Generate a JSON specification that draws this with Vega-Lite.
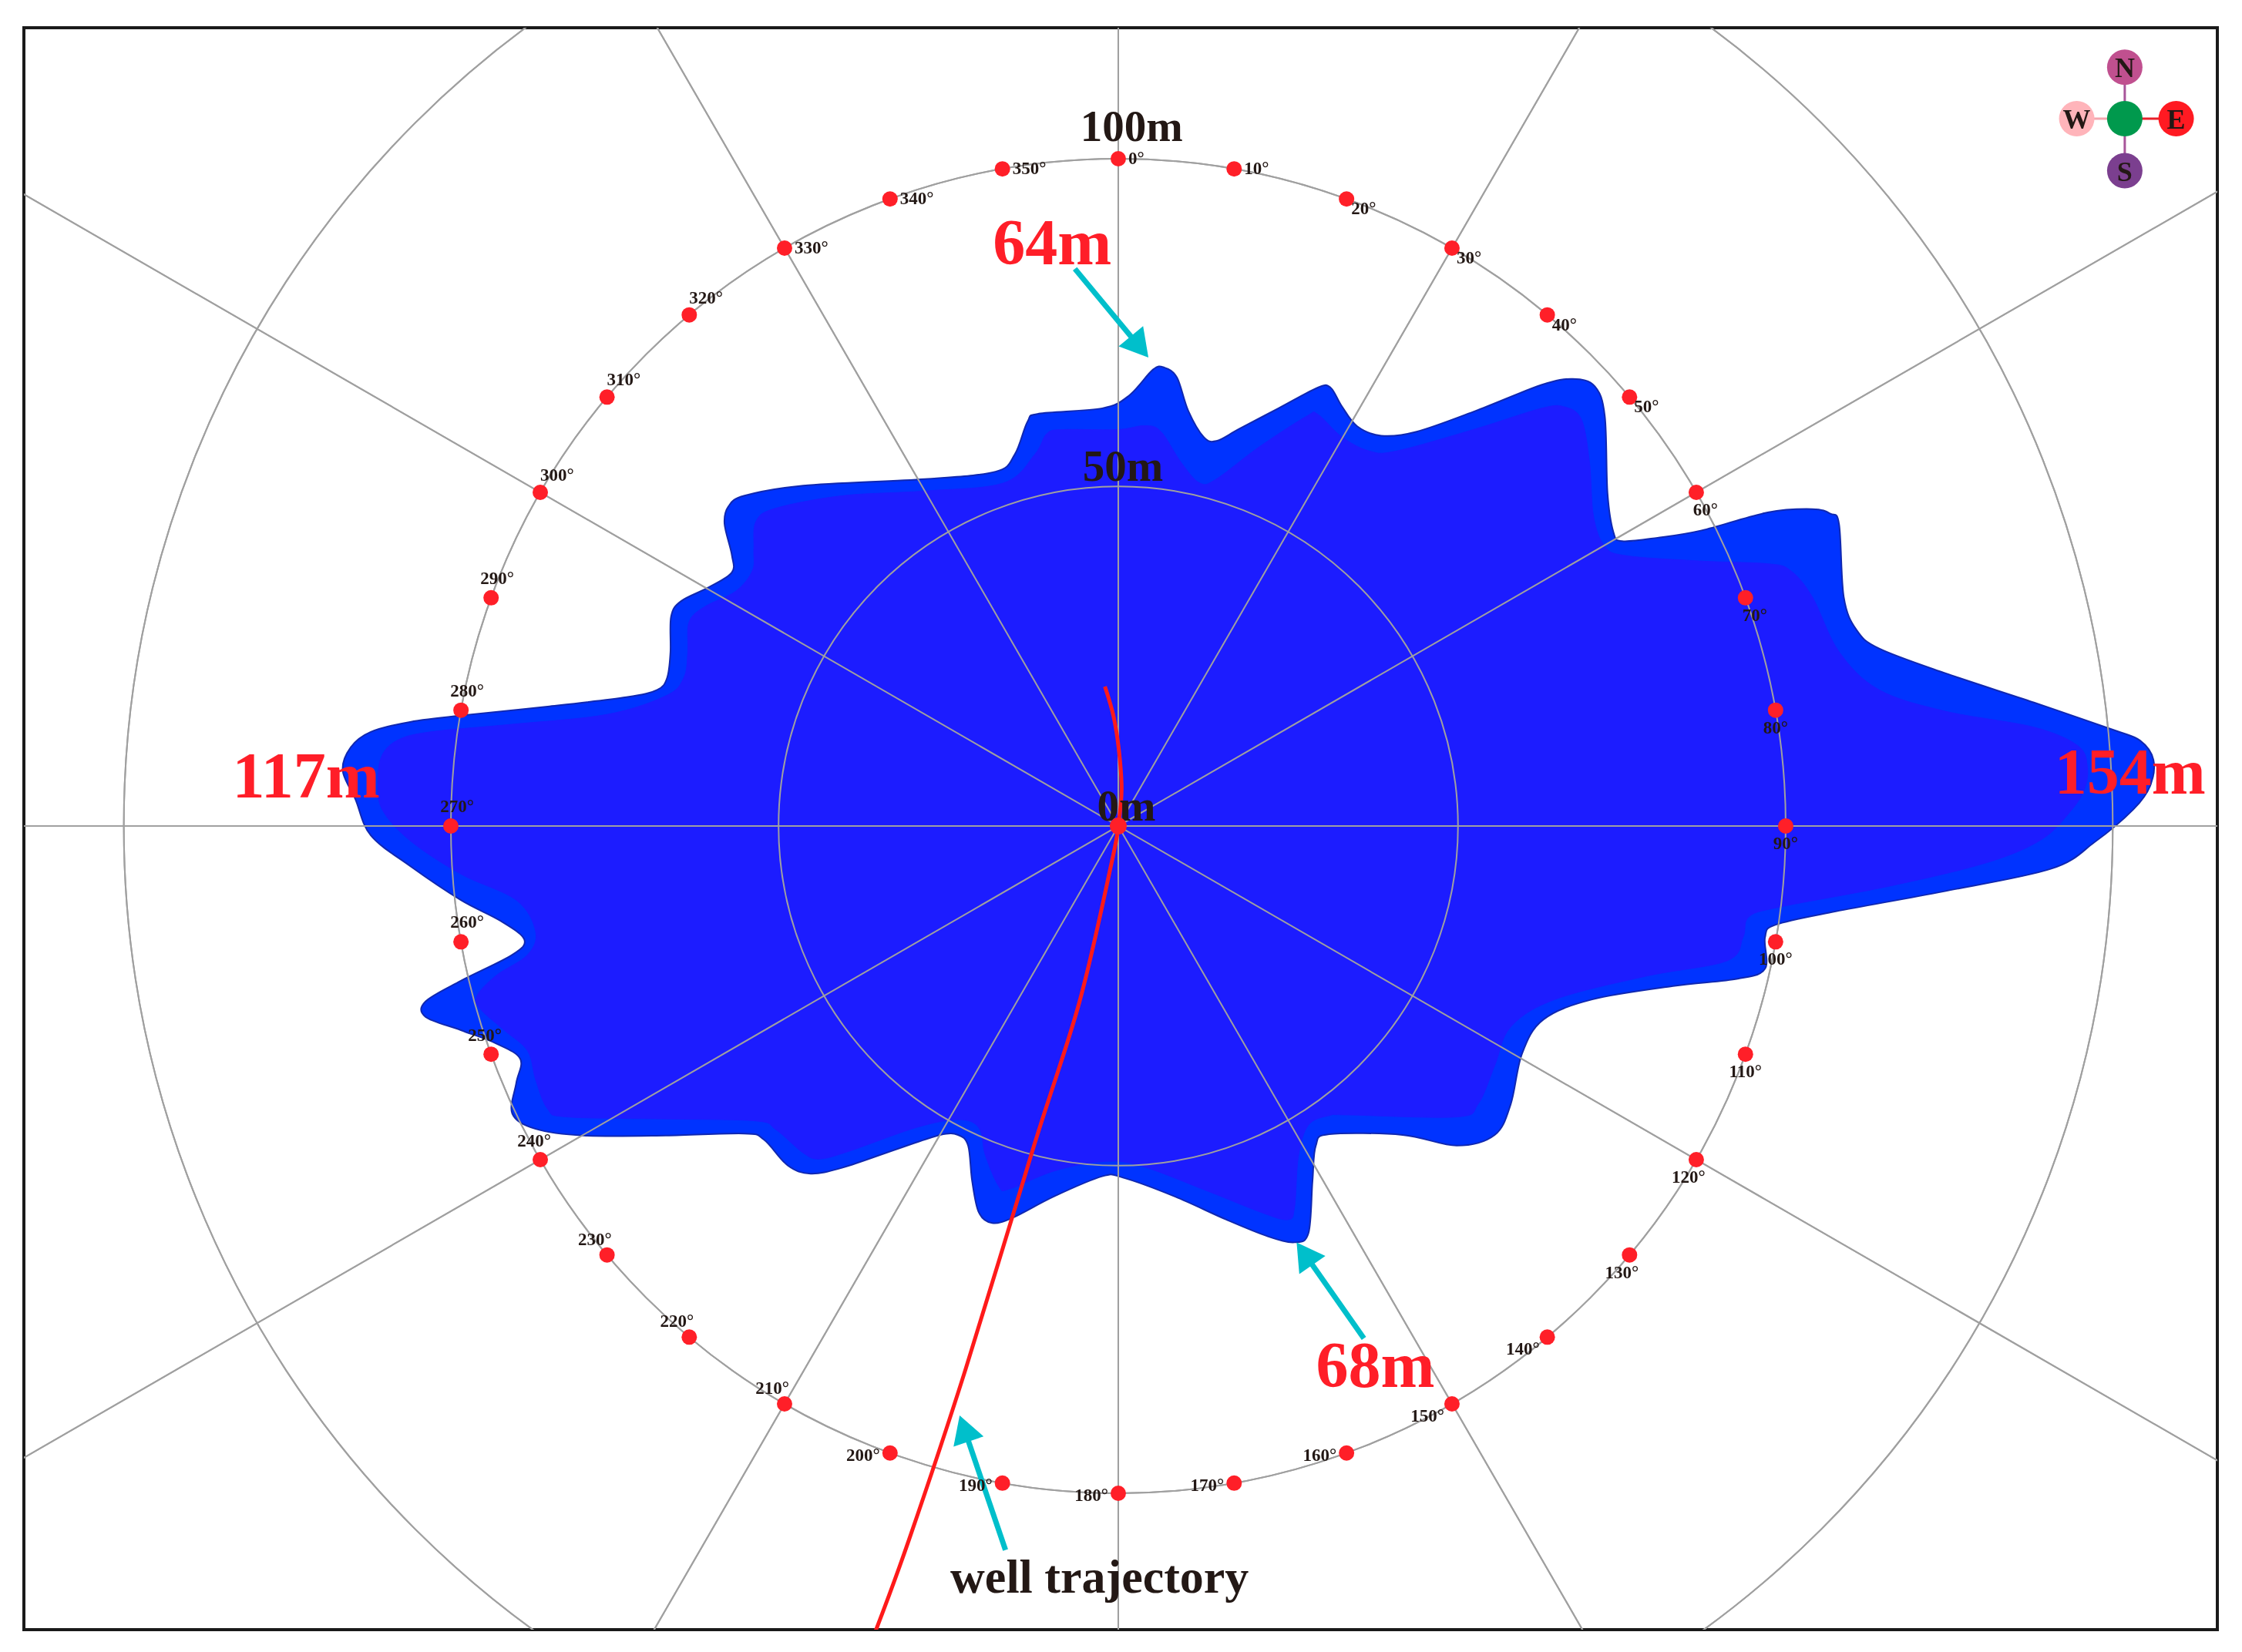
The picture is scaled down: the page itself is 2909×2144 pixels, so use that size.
{
"$schema": "https://vega.github.io/schema/vega-lite/v6.json",
"width": 2846, "height": 2079,
"autosize": {"type": "none"},
"padding": {"left": 31, "top": 36, "right": 32, "bottom": 29},
"background": "white",
"config": {"view": {"stroke": "#1a1a1a", "strokeWidth": 4}},
"datasets": {
"rings": [{"x": 0, "y": 0, "r": 50.9}, {"x": 0, "y": 0, "r": 100}, {"x": 0, "y": 0, "r": 149}],
"spokes": [
{"x": 0, "y": 300, "x2": 0, "y2": -300},
{"x": 150, "y": 259.8, "x2": -150, "y2": -259.8},
{"x": 259.8, "y": 150, "x2": -259.8, "y2": -150},
{"x": 300, "y": 0, "x2": -300, "y2": 0},
{"x": 259.8, "y": -150, "x2": -259.8, "y2": 150},
{"x": 150, "y": -259.8, "x2": -150, "y2": 259.8}],
"outer": [{"i":1,"x":-116.2,"y":8.3},{"i":2,"x":-115.0,"y":11.8},{"i":3,"x":-112.0,"y":14.1},{"i":4,"x":-106.1,"y":15.6},{"i":5,"x":-97.2,"y":16.7},{"i":6,"x":-85.5,"y":17.9},{"i":7,"x":-73.7,"y":19.3},{"i":8,"x":-69.1,"y":20.4},{"i":9,"x":-67.6,"y":22.2},{"i":10,"x":-67.1,"y":26.0},{"i":11,"x":-67.0,"y":31.4},{"i":12,"x":-65.5,"y":33.7},{"i":13,"x":-61.3,"y":35.8},{"i":14,"x":-57.9,"y":38.0},{"i":15,"x":-57.9,"y":40.6},{"i":16,"x":-59.0,"y":45.3},{"i":17,"x":-58.4,"y":47.9},{"i":18,"x":-56.0,"y":49.5},{"i":19,"x":-47.2,"y":51.0},{"i":20,"x":-29.0,"y":52.0},{"i":21,"x":-18.4,"y":53.1},{"i":22,"x":-15.5,"y":55.7},{"i":23,"x":-13.6,"y":60.6},{"i":24,"x":-11.9,"y":61.8},{"i":25,"x":-2.4,"y":62.6},{"i":26,"x":1.6,"y":64.5},{"i":27,"x":5.2,"y":68.4},{"i":28,"x":6.9,"y":68.7},{"i":29,"x":8.8,"y":67.2},{"i":30,"x":10.5,"y":62.2},{"i":31,"x":12.8,"y":58.3},{"i":32,"x":14.7,"y":57.7},{"i":33,"x":18.1,"y":59.5},{"i":34,"x":24.0,"y":62.6},{"i":35,"x":29.9,"y":65.7},{"i":36,"x":31.8,"y":65.7},{"i":37,"x":33.5,"y":62.9},{"i":38,"x":35.8,"y":59.9},{"i":39,"x":39.4,"y":58.5},{"i":40,"x":44.7,"y":59.1},{"i":41,"x":53.5,"y":62.2},{"i":42,"x":63.4,"y":66.1},{"i":43,"x":68.1,"y":67.0},{"i":44,"x":71.4,"y":65.9},{"i":45,"x":72.9,"y":61.4},{"i":46,"x":73.3,"y":49.9},{"i":47,"x":74.2,"y":44.0},{"i":48,"x":75.5,"y":42.7},{"i":49,"x":80.8,"y":43.2},{"i":50,"x":87.4,"y":44.3},{"i":51,"x":97.3,"y":47.0},{"i":52,"x":104.0,"y":47.5},{"i":53,"x":106.7,"y":46.8},{"i":54,"x":108.0,"y":45.2},{"i":55,"x":108.7,"y":34.3},{"i":56,"x":110.6,"y":29.4},{"i":57,"x":114.0,"y":26.6},{"i":58,"x":123.9,"y":22.9},{"i":59,"x":137.2,"y":18.5},{"i":60,"x":149.1,"y":14.4},{"i":61,"x":153.1,"y":12.8},{"i":62,"x":155.1,"y":9.9},{"i":63,"x":154.6,"y":6.0},{"i":64,"x":152.1,"y":2.5},{"i":65,"x":146.3,"y":-2.4},{"i":66,"x":139.8,"y":-6.4},{"i":67,"x":123.7,"y":-9.8},{"i":68,"x":107.5,"y":-12.8},{"i":69,"x":98.5,"y":-14.8},{"i":70,"x":96.9,"y":-16.7},{"i":71,"x":96.9,"y":-21.4},{"i":72,"x":92.8,"y":-22.9},{"i":73,"x":83.1,"y":-24.0},{"i":74,"x":71.0,"y":-26.0},{"i":75,"x":63.7,"y":-29.0},{"i":76,"x":60.5,"y":-34.1},{"i":77,"x":58.8,"y":-41.7},{"i":78,"x":56.4,"y":-46.3},{"i":79,"x":50.7,"y":-47.9},{"i":80,"x":42.6,"y":-46.3},{"i":81,"x":31.6,"y":-46.2},{"i":82,"x":29.6,"y":-47.9},{"i":83,"x":29.1,"y":-53.2},{"i":84,"x":28.5,"y":-61.0},{"i":85,"x":26.4,"y":-62.4},{"i":86,"x":22.4,"y":-61.5},{"i":87,"x":16.2,"y":-59.0},{"i":88,"x":8.4,"y":-55.5},{"i":89,"x":0.7,"y":-52.7},{"i":90,"x":-2.4,"y":-52.5},{"i":91,"x":-9.6,"y":-55.5},{"i":92,"x":-15.8,"y":-58.7},{"i":93,"x":-18.9,"y":-59.5},{"i":94,"x":-20.9,"y":-57.9},{"i":95,"x":-21.9,"y":-53.2},{"i":96,"x":-22.5,"y":-47.9},{"i":97,"x":-24.0,"y":-46.3},{"i":98,"x":-26.7,"y":-46.3},{"i":99,"x":-32.8,"y":-48.3},{"i":100,"x":-41.3,"y":-51.2},{"i":101,"x":-46.1,"y":-52.1},{"i":102,"x":-49.5,"y":-50.9},{"i":103,"x":-53.1,"y":-47.0},{"i":104,"x":-56.0,"y":-46.1},{"i":105,"x":-67.8,"y":-46.4},{"i":106,"x":-80.1,"y":-46.4},{"i":107,"x":-87.3,"y":-45.4},{"i":108,"x":-90.8,"y":-43.1},{"i":109,"x":-90.2,"y":-38.5},{"i":110,"x":-89.6,"y":-34.9},{"i":111,"x":-93.2,"y":-32.6},{"i":112,"x":-98.5,"y":-30.6},{"i":113,"x":-103.8,"y":-28.6},{"i":114,"x":-103.8,"y":-26.3},{"i":115,"x":-98.5,"y":-23.2},{"i":116,"x":-90.8,"y":-19.3},{"i":117,"x":-89.0,"y":-17.0},{"i":118,"x":-92.6,"y":-14.2},{"i":119,"x":-98.5,"y":-11.1},{"i":120,"x":-106.1,"y":-6.0},{"i":121,"x":-112.0,"y":-1.4},{"i":122,"x":-114.3,"y":4.0}],
"inner": [{"i":1,"x":-110.9,"y":6.8},{"i":2,"x":-110.3,"y":10.6},{"i":3,"x":-107.9,"y":12.9},{"i":4,"x":-103.1,"y":14.1},{"i":5,"x":-91.3,"y":15.2},{"i":6,"x":-76.7,"y":16.7},{"i":7,"x":-67.8,"y":19.5},{"i":8,"x":-65.1,"y":22.2},{"i":9,"x":-64.5,"y":26.0},{"i":10,"x":-64.3,"y":30.6},{"i":11,"x":-61.9,"y":32.9},{"i":12,"x":-57.3,"y":35.2},{"i":13,"x":-54.8,"y":38.3},{"i":14,"x":-54.6,"y":41.5},{"i":15,"x":-54.3,"y":45.6},{"i":16,"x":-51.4,"y":47.6},{"i":17,"x":-41.3,"y":49.5},{"i":18,"x":-29.0,"y":50.2},{"i":19,"x":-17.2,"y":51.4},{"i":20,"x":-12.5,"y":55.7},{"i":21,"x":-10.7,"y":58.8},{"i":22,"x":-8.3,"y":59.4},{"i":23,"x":-0.1,"y":59.4},{"i":24,"x":4.0,"y":60.0},{"i":25,"x":6.4,"y":59.1},{"i":26,"x":9.4,"y":54.5},{"i":27,"x":12.2,"y":51.4},{"i":28,"x":14.7,"y":52.0},{"i":29,"x":21.1,"y":56.8},{"i":30,"x":28.2,"y":61.4},{"i":31,"x":29.9,"y":61.7},{"i":32,"x":33.5,"y":58.3},{"i":33,"x":37.6,"y":56.2},{"i":34,"x":41.7,"y":56.2},{"i":35,"x":53.5,"y":59.5},{"i":36,"x":63.4,"y":62.6},{"i":37,"x":66.9,"y":62.8},{"i":38,"x":69.4,"y":60.9},{"i":39,"x":70.6,"y":54.5},{"i":40,"x":71.2,"y":46.4},{"i":41,"x":72.9,"y":41.9},{"i":42,"x":76.2,"y":40.5},{"i":43,"x":87.4,"y":39.7},{"i":44,"x":97.3,"y":39.3},{"i":45,"x":100.7,"y":38.3},{"i":46,"x":104.0,"y":34.3},{"i":47,"x":108.0,"y":26.1},{"i":48,"x":114.0,"y":20.4},{"i":49,"x":123.9,"y":17.2},{"i":50,"x":137.2,"y":14.8},{"i":51,"x":143.8,"y":12.0},{"i":52,"x":145.2,"y":8.8},{"i":53,"x":144.7,"y":5.4},{"i":54,"x":142.5,"y":2.0},{"i":55,"x":138.2,"y":-2.1},{"i":56,"x":130.1,"y":-5.5},{"i":57,"x":115.6,"y":-9.0},{"i":58,"x":99.3,"y":-12.1},{"i":59,"x":94.5,"y":-13.6},{"i":60,"x":93.6,"y":-16.7},{"i":61,"x":91.2,"y":-20.2},{"i":62,"x":79.1,"y":-22.5},{"i":63,"x":65.4,"y":-26.0},{"i":64,"x":58.8,"y":-30.1},{"i":65,"x":56.4,"y":-35.9},{"i":66,"x":53.9,"y":-41.7},{"i":67,"x":50.7,"y":-43.6},{"i":68,"x":34.5,"y":-43.3},{"i":69,"x":31.6,"y":-43.4},{"i":70,"x":28.5,"y":-44.8},{"i":71,"x":27.0,"y":-49.4},{"i":72,"x":26.4,"y":-57.2},{"i":73,"x":25.4,"y":-59.0},{"i":74,"x":21.4,"y":-57.9},{"i":75,"x":13.6,"y":-54.8},{"i":76,"x":3.3,"y":-50.9},{"i":77,"x":-2.4,"y":-50.3},{"i":78,"x":-9.6,"y":-51.7},{"i":79,"x":-16.3,"y":-54.4},{"i":80,"x":-17.9,"y":-54.0},{"i":81,"x":-19.9,"y":-49.4},{"i":82,"x":-20.9,"y":-45.2},{"i":83,"x":-24.0,"y":-44.0},{"i":84,"x":-30.3,"y":-45.2},{"i":85,"x":-40.5,"y":-48.8},{"i":86,"x":-44.8,"y":-49.9},{"i":87,"x":-47.2,"y":-49.0},{"i":88,"x":-51.3,"y":-45.5},{"i":89,"x":-54.3,"y":-44.2},{"i":90,"x":-67.8,"y":-43.9},{"i":91,"x":-82.6,"y":-43.6},{"i":92,"x":-85.5,"y":-42.4},{"i":93,"x":-87.3,"y":-38.0},{"i":94,"x":-88.5,"y":-33.7},{"i":95,"x":-92.0,"y":-30.6},{"i":96,"x":-95.5,"y":-27.5},{"i":97,"x":-96.1,"y":-25.5},{"i":98,"x":-93.2,"y":-22.4},{"i":99,"x":-88.5,"y":-19.3},{"i":100,"x":-87.3,"y":-15.8},{"i":101,"x":-90.2,"y":-11.1},{"i":102,"x":-98.5,"y":-7.2},{"i":103,"x":-106.1,"y":-2.2},{"i":104,"x":-110.3,"y":2.5}],
"well": [{"i":1,"x":-2.0,"y":20.9},{"i":2,"x":-0.7,"y":16.4},{"i":3,"x":0.1,"y":11.3},{"i":4,"x":0.5,"y":5.5},{"i":5,"x":0,"y":0},{"i":6,"x":-1.0,"y":-5.5},{"i":7,"x":-5.8,"y":-26.3},{"i":8,"x":-12.5,"y":-47.5},{"i":9,"x":-23.0,"y":-81.8},{"i":10,"x":-31.3,"y":-106.8},{"i":11,"x":-36.5,"y":-121}],
"arrows": [{"x":-6.5,"y":83.5,"x2":3.2,"y2":71.8,"bearing":140.4},{"x":36.8,"y":-76.8,"x2":27.9,"y2":-64.1,"bearing":325.2},{"x":-16.9,"y":-108.5,"x2":-23.1,"y2":-90.3,"bearing":341.1}],
"ring": [{"deg":0,"x":0,"y":100,"label":"0°"},{"deg":10,"x":17.36,"y":98.48,"label":"10°"},{"deg":20,"x":34.2,"y":93.97,"label":"20°"},{"deg":30,"x":50,"y":86.6,"label":"30°"},{"deg":40,"x":64.28,"y":76.6,"label":"40°"},{"deg":50,"x":76.6,"y":64.28,"label":"50°"},{"deg":60,"x":86.6,"y":50,"label":"60°"},{"deg":70,"x":93.97,"y":34.2,"label":"70°"},{"deg":80,"x":98.48,"y":17.36,"label":"80°"},{"deg":90,"x":100,"y":0,"label":"90°"},{"deg":100,"x":98.48,"y":-17.36,"label":"100°"},{"deg":110,"x":93.97,"y":-34.2,"label":"110°"},{"deg":120,"x":86.6,"y":-50,"label":"120°"},{"deg":130,"x":76.6,"y":-64.28,"label":"130°"},{"deg":140,"x":64.28,"y":-76.6,"label":"140°"},{"deg":150,"x":50,"y":-86.6,"label":"150°"},{"deg":160,"x":34.2,"y":-93.97,"label":"160°"},{"deg":170,"x":17.36,"y":-98.48,"label":"170°"},{"deg":180,"x":0,"y":-100,"label":"180°"},{"deg":190,"x":-17.36,"y":-98.48,"label":"190°"},{"deg":200,"x":-34.2,"y":-93.97,"label":"200°"},{"deg":210,"x":-50,"y":-86.6,"label":"210°"},{"deg":220,"x":-64.28,"y":-76.6,"label":"220°"},{"deg":230,"x":-76.6,"y":-64.28,"label":"230°"},{"deg":240,"x":-86.6,"y":-50,"label":"240°"},{"deg":250,"x":-93.97,"y":-34.2,"label":"250°"},{"deg":260,"x":-98.48,"y":-17.36,"label":"260°"},{"deg":270,"x":-100,"y":0,"label":"270°"},{"deg":280,"x":-98.48,"y":17.36,"label":"280°"},{"deg":290,"x":-93.97,"y":34.2,"label":"290°"},{"deg":300,"x":-86.6,"y":50,"label":"300°"},{"deg":310,"x":-76.6,"y":64.28,"label":"310°"},{"deg":320,"x":-64.28,"y":76.6,"label":"320°"},{"deg":330,"x":-50,"y":86.6,"label":"330°"},{"deg":340,"x":-34.2,"y":93.97,"label":"340°"},{"deg":350,"x":-17.36,"y":98.48,"label":"350°"}],
"darklabels": [{"x":2.0,"y":102.7,"t":"100m"},{"x":0.7,"y":51.7,"t":"50m"},{"x":1.2,"y":0.8,"t":"0m"}],
"redlabels": [{"x":-9.9,"y":84.2,"t":"64m"},{"x":38.5,"y":-84.1,"t":"68m"},{"x":-121.7,"y":4.3,"t":"117m"},{"x":151.6,"y":4.8,"t":"154m"}],
"compass": [{"x":150.8,"y":113.7,"k":"N"},{"x":143.6,"y":106.0,"k":"W"},{"x":158.5,"y":106.0,"k":"E"},{"x":150.8,"y":98.2,"k":"S"},{"x":150.8,"y":106.0,"k":"C"}],
"compasslines": [{"x":150.8,"y":113.7,"x2":150.8,"y2":98.2,"k":"NS"},{"x":143.6,"y":106.0,"x2":150.8,"y2":106.0,"k":"WC"},{"x":150.8,"y":106.0,"x2":158.5,"y2":106.0,"k":"CE"}]
},
"encoding": {
"x": {"field": "x", "type": "quantitative", "scale": {"domain": [-163.97, 164.67], "nice": false, "zero": false}, "axis": null},
"y": {"field": "y", "type": "quantitative", "scale": {"domain": [-120.44, 119.63], "nice": false, "zero": false}, "axis": null}
},
"layer": [
{"data": {"name": "rings"}, "mark": {"type": "arc", "theta": 0, "theta2": 6.2832, "filled": false, "fill": null, "stroke": "#a0a0a0", "strokeWidth": 2, "clip": true},
 "encoding": {"radius": {"field": "r", "type": "quantitative", "stack": null, "scale": {"type": "linear", "domain": [0, 200], "range": [0, 1732], "zero": true, "nice": false}}}},
{"data": {"name": "spokes"}, "mark": {"type": "rule", "stroke": "#a0a0a0", "strokeWidth": 2, "clip": true},
 "encoding": {"x2": {"field": "x2"}, "y2": {"field": "y2"}}},
{"data": {"name": "outer"}, "mark": {"type": "line", "interpolate": "cardinal-closed", "fill": "#0033FF", "stroke": "#1028B0", "strokeWidth": 2},
 "encoding": {"order": {"field": "i", "type": "quantitative"}}},
{"data": {"name": "inner"}, "mark": {"type": "line", "interpolate": "cardinal-closed", "fill": "#1C1CFF", "stroke": "#1C1CFF", "strokeWidth": 1},
 "encoding": {"order": {"field": "i", "type": "quantitative"}}},
{"data": {"name": "rings"}, "mark": {"type": "arc", "theta": 0, "theta2": 6.2832, "filled": false, "fill": null, "stroke": "#a0a0a0", "strokeWidth": 2, "clip": true, "blend": "lighten"},
 "encoding": {"radius": {"field": "r", "type": "quantitative", "stack": null}}},
{"data": {"name": "spokes"}, "mark": {"type": "rule", "stroke": "#a0a0a0", "strokeWidth": 2, "clip": true, "blend": "lighten"},
 "encoding": {"x2": {"field": "x2"}, "y2": {"field": "y2"}}},
{"data": {"name": "well"}, "mark": {"type": "line", "interpolate": "cardinal", "stroke": "#FF1A1A", "strokeWidth": 5, "clip": true},
 "encoding": {"order": {"field": "i", "type": "quantitative"}}},
{"data": {"name": "arrows"}, "mark": {"type": "rule", "stroke": "#00BFCB", "strokeWidth": 7},
 "encoding": {"x2": {"field": "x2"}, "y2": {"field": "y2"}}},
{"data": {"name": "arrows"}, "mark": {"type": "point", "shape": "triangle-up", "filled": true, "color": "#00BFCB", "size": 1700, "opacity": 1},
 "encoding": {"x": {"field": "x2", "type": "quantitative"}, "y": {"field": "y2", "type": "quantitative"}, "angle": {"field": "bearing", "type": "quantitative", "scale": null}}},
{"data": {"name": "ring"}, "mark": {"type": "point", "shape": "circle", "filled": true, "color": "#FF1F28", "size": 400, "opacity": 1}},
{"data": {"name": "ring"}, "transform": [{"filter": {"field": "deg", "oneOf": [300, 310, 320]}}], "mark": {"type": "text", "align": "left", "baseline": "bottom", "dx": 0, "dy": -10, "font": "Liberation Serif", "fontWeight": "bold", "fontSize": 23, "color": "#231815"}, "encoding": {"text": {"field": "label"}}},
{"data": {"name": "ring"}, "transform": [{"filter": {"field": "deg", "oneOf": [330, 340, 350, 0, 10]}}], "mark": {"type": "text", "align": "left", "baseline": "middle", "dx": 13, "dy": 0, "font": "Liberation Serif", "fontWeight": "bold", "fontSize": 23, "color": "#231815"}, "encoding": {"text": {"field": "label"}}},
{"data": {"name": "ring"}, "transform": [{"filter": {"field": "deg", "oneOf": [20, 30, 40, 50]}}], "mark": {"type": "text", "align": "left", "baseline": "top", "dx": 6, "dy": 2, "font": "Liberation Serif", "fontWeight": "bold", "fontSize": 23, "color": "#231815"}, "encoding": {"text": {"field": "label"}}},
{"data": {"name": "ring"}, "transform": [{"filter": {"field": "deg", "oneOf": [60, 70]}}], "mark": {"type": "text", "align": "center", "baseline": "top", "dx": 12, "dy": 12, "font": "Liberation Serif", "fontWeight": "bold", "fontSize": 23, "color": "#231815"}, "encoding": {"text": {"field": "label"}}},
{"data": {"name": "ring"}, "transform": [{"filter": {"field": "deg", "oneOf": [80, 90, 100, 110]}}], "mark": {"type": "text", "align": "center", "baseline": "top", "dx": 0, "dy": 12, "font": "Liberation Serif", "fontWeight": "bold", "fontSize": 23, "color": "#231815"}, "encoding": {"text": {"field": "label"}}},
{"data": {"name": "ring"}, "transform": [{"filter": {"field": "deg", "oneOf": [120, 130]}}], "mark": {"type": "text", "align": "center", "baseline": "top", "dx": -10, "dy": 12, "font": "Liberation Serif", "fontWeight": "bold", "fontSize": 23, "color": "#231815"}, "encoding": {"text": {"field": "label"}}},
{"data": {"name": "ring"}, "transform": [{"filter": {"field": "deg", "oneOf": [140, 150]}}], "mark": {"type": "text", "align": "right", "baseline": "top", "dx": -10, "dy": 5, "font": "Liberation Serif", "fontWeight": "bold", "fontSize": 23, "color": "#231815"}, "encoding": {"text": {"field": "label"}}},
{"data": {"name": "ring"}, "transform": [{"filter": {"field": "deg", "oneOf": [160, 170, 180, 190, 200]}}], "mark": {"type": "text", "align": "right", "baseline": "middle", "dx": -13, "dy": 3, "font": "Liberation Serif", "fontWeight": "bold", "fontSize": 23, "color": "#231815"}, "encoding": {"text": {"field": "label"}}},
{"data": {"name": "ring"}, "transform": [{"filter": {"field": "deg", "oneOf": [210, 220, 230]}}], "mark": {"type": "text", "align": "right", "baseline": "bottom", "dx": 6, "dy": -8, "font": "Liberation Serif", "fontWeight": "bold", "fontSize": 23, "color": "#231815"}, "encoding": {"text": {"field": "label"}}},
{"data": {"name": "ring"}, "transform": [{"filter": {"field": "deg", "oneOf": [240, 250]}}], "mark": {"type": "text", "align": "center", "baseline": "bottom", "dx": -8, "dy": -12, "font": "Liberation Serif", "fontWeight": "bold", "fontSize": 23, "color": "#231815"}, "encoding": {"text": {"field": "label"}}},
{"data": {"name": "ring"}, "transform": [{"filter": {"field": "deg", "oneOf": [260, 270, 280, 290]}}], "mark": {"type": "text", "align": "center", "baseline": "bottom", "dx": 8, "dy": -13, "font": "Liberation Serif", "fontWeight": "bold", "fontSize": 23, "color": "#231815"}, "encoding": {"text": {"field": "label"}}},
{"data": {"name": "darklabels"}, "mark": {"type": "text", "align": "center", "baseline": "alphabetic", "font": "Liberation Serif", "fontWeight": "bold", "fontSize": 57, "color": "#231815"}, "encoding": {"text": {"field": "t"}}},
{"data": {"values": [{"x": 0, "y": 0}]}, "mark": {"type": "point", "shape": "circle", "filled": true, "color": "#FF1F28", "size": 480, "opacity": 1}},
{"data": {"name": "redlabels"}, "mark": {"type": "text", "align": "center", "baseline": "alphabetic", "font": "Liberation Serif", "fontWeight": "bold", "fontSize": 84, "color": "#FF1E28"}, "encoding": {"text": {"field": "t"}}},
{"data": {"values": [{"x": -2.8, "y": -114.9, "t": "well trajectory"}]}, "mark": {"type": "text", "align": "center", "baseline": "alphabetic", "font": "Liberation Serif", "fontWeight": "bold", "fontSize": 62, "color": "#231815"}, "encoding": {"text": {"field": "t"}}},
{"data": {"name": "compasslines"}, "mark": {"type": "rule", "strokeWidth": 3},
 "encoding": {"x2": {"field": "x2"}, "y2": {"field": "y2"}, "stroke": {"field": "k", "type": "nominal", "scale": {"domain": ["NS", "WC", "CE"], "range": ["#A8559A", "#F4A6AE", "#E8202A"]}, "legend": null}}},
{"data": {"name": "compass"}, "mark": {"type": "point", "shape": "circle", "filled": true, "size": 2116, "opacity": 1},
 "encoding": {"color": {"field": "k", "type": "nominal", "scale": {"domain": ["N", "W", "E", "S", "C"], "range": ["#C0508F", "#FFB4BA", "#FF1A22", "#7B3F8F", "#00994D"]}, "legend": null}}},
{"data": {"name": "compass"}, "transform": [{"filter": {"field": "k", "oneOf": ["N", "W", "E", "S"]}}], "mark": {"type": "text", "align": "center", "baseline": "middle", "dy": 2, "font": "Liberation Serif", "fontWeight": "bold", "fontSize": 36, "color": "#231815"}, "encoding": {"text": {"field": "k"}}}
]
}
